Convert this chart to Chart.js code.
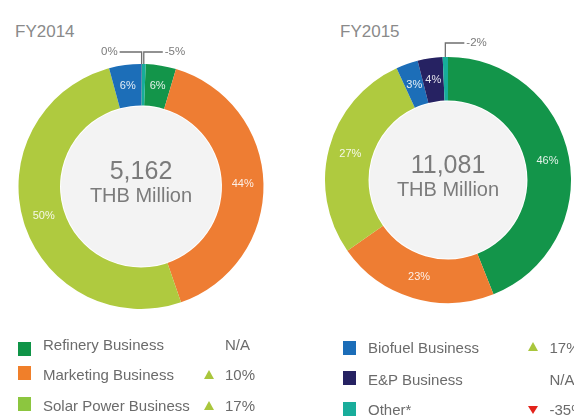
<!DOCTYPE html>
<html>
<head>
<meta charset="utf-8">
<script src="https://cdn.jsdelivr.net/npm/chart.js@4.4.0/dist/chart.umd.min.js"></script>
<style>
  body { margin: 0; width: 574px; height: 417px; overflow: hidden; background: #fff; position: relative;
         font-family: "Liberation Sans", Arial, Helvetica, sans-serif; }
  .title { position: absolute; top: 23px; font-size: 17px; line-height: 17px; color: #8a8a8a; }
  canvas { position: absolute; }
  .sq { position: absolute; width: 13px; height: 14px; }
  .txt { position: absolute; font-size: 15px; line-height: 15px; color: #6b6b6b; white-space: nowrap; }
  .tri { position: absolute; width: 0; height: 0; border-left: 5.5px solid transparent; border-right: 5.5px solid transparent; }
  .tri.up { border-bottom: 9px solid #a9c63c; }
  .tri.down { border-top: 8px solid #e3231b; }
</style>
</head>
<body>
<div class="title" style="left:15px">FY2014</div>
<div class="title" style="left:340px">FY2015</div>
<canvas id="fy2014" width="280" height="301" style="left:1px;top:36px"></canvas>
<canvas id="fy2015" width="250" height="300" style="left:323px;top:30px"></canvas>
<div id="legend"></div>

<script>
// 业务板块（顺时针顺序）
const SEGMENTS = ['Refinery Business', 'Marketing Business', 'Solar Power Business',
                  'Biofuel Business', 'E&P Business', 'Other*'];
const COLORS = ['#13954a', '#ee7d33', '#afca3f', '#1c6eb8', '#262262', '#17ad9a'];
const LEGEND_COLORS = ['#0f9447', '#f07f2a', '#8cc63f', '#1b6db8', '#262262', '#19ad9b'];

// 各板块占比（按图中弧长读取）
const share2014 = [4.0, 40.1, 51.1, 4.25, 0.06, 0.5];
const share2015 = [43.97, 21.28, 27.89, 2.89, 3.28, 0.69];

// 图上标注的百分比
const labels2014 = ['6%', '44%', '50%', '6%', '0%', '-5%'];
const labels2015 = ['46%', '23%', '27%', '3%', '4%', '-2%'];

// 中心总额
const total2014 = '5,162';
const total2015 = '11,081';
const unit = 'THB Million';

// 同比变化（图例右侧）
const change = ['N/A', '10%', '17%', '17%', 'N/A', '-35%'];
const trend = [null, 'up', 'up', 'up', null, 'down'];

const FONT = '"Liberation Sans", Arial, Helvetica, sans-serif';

// 中心灰圆 + 总额 + 扇区标签 + 引线
const donutDecor = {
  id: 'donutDecor',
  afterDatasetsDraw(chart, args, opts) {
    const ctx = chart.ctx;
    const arcs = chart.getDatasetMeta(0).data;
    const { x: cx, y: cy, innerRadius, outerRadius } =
      arcs[0].getProps(['x', 'y', 'innerRadius', 'outerRadius'], true);

    ctx.save();
    ctx.fillStyle = '#f3f3f3';
    ctx.beginPath();
    ctx.arc(cx, cy, innerRadius - 1, 0, Math.PI * 2);
    ctx.fill();

    ctx.fillStyle = '#7b7b7b';
    ctx.textAlign = 'center';
    ctx.textBaseline = 'alphabetic';
    ctx.font = '25px ' + FONT;
    ctx.fillText(opts.total, cx, cy - 7.3);
    ctx.font = '20px ' + FONT;
    ctx.fillText(unit, cx, cy + 15.8);

    arcs.forEach((arc, i) => {
      const text = opts.labels[i];
      const side = opts.leaders[i];
      if (side) {
        const { startAngle, endAngle } = arc.getProps(['startAngle', 'endAngle'], true);
        const mid = (startAngle + endAngle) / 2;
        const x0 = cx + outerRadius * Math.cos(mid);
        const y0 = cy + outerRadius * Math.sin(mid);
        const yTop = cy - outerRadius - opts.rise;
        const x1 = side === 'left' ? x0 - 22 : x0 + 19;
        ctx.strokeStyle = '#6f6f6f';
        ctx.lineWidth = 1.3;
        ctx.beginPath();
        ctx.moveTo(x0, y0);
        ctx.lineTo(x0, yTop);
        ctx.lineTo(x1, yTop);
        ctx.stroke();
        ctx.fillStyle = '#7b7b7b';
        ctx.font = '11.5px ' + FONT;
        ctx.textBaseline = 'middle';
        ctx.textAlign = side === 'left' ? 'right' : 'left';
        ctx.fillText(text, side === 'left' ? x1 - 2 : x1 + 2, yTop);
      } else {
        const p = arc.getCenterPoint(true);
        ctx.fillStyle = 'rgba(255,255,255,0.88)';
        ctx.font = '11px ' + FONT;
        ctx.textAlign = 'center';
        ctx.textBaseline = 'middle';
        ctx.fillText(text, p.x, p.y);
      }
    });
    ctx.restore();
  }
};

function makeDonut(id, values, labels, total, rotation, radius, cutout, leaders, rise) {
  new Chart(document.getElementById(id), {
    type: 'doughnut',
    data: {
      labels: SEGMENTS,
      datasets: [{
        data: values,
        backgroundColor: COLORS,
        borderWidth: 0
      }]
    },
    options: {
      responsive: false,
      animation: false,
      events: [],
      rotation: rotation,
      radius: radius,
      cutout: cutout,
      layout: { padding: 0 },
      plugins: {
        legend: { display: false },
        tooltip: { enabled: false },
        donutDecor: { labels, total, leaders, rise }
      }
    },
    plugins: [donutDecor]
  });
}

makeDonut('fy2014', share2014, labels2014, total2014, 2.2, 122.5, '66.1%', { 4: 'left', 5: 'right' }, 12);
makeDonut('fy2015', share2015, labels2015, total2015, 0, 123, '64.6%', { 5: 'right' }, 14);

// 图例（两列）
const legendBox = document.getElementById('legend');
const cols = [
  { sqX: 18, txtX: 43, triX: 204, valX: 225, sqY: [342, 366, 397], txtY: [337, 367, 398] },
  { sqX: 343, txtX: 368, triX: 528, valX: 549.5, sqY: [341, 371, 402], txtY: [339.5, 371.5, 401.5] }
];
SEGMENTS.forEach((name, i) => {
  const c = cols[Math.floor(i / 3)];
  const r = i % 3;
  legendBox.insertAdjacentHTML('beforeend',
    `<div class="sq" style="left:${c.sqX}px;top:${c.sqY[r]}px;background:${LEGEND_COLORS[i]}"></div>
     <div class="txt" style="left:${c.txtX}px;top:${c.txtY[r]}px">${name.replace('&', '&amp;')}</div>
     <div class="txt" style="left:${c.valX}px;top:${c.txtY[r]}px">${change[i]}</div>`);
  if (trend[i]) {
    const ty = c.txtY[r] + (trend[i] === 'up' ? 2.5 : 4);
    legendBox.insertAdjacentHTML('beforeend',
      `<div class="tri ${trend[i]}" style="left:${c.triX}px;top:${ty}px"></div>`);
  }
});
</script>
</body>
</html>
